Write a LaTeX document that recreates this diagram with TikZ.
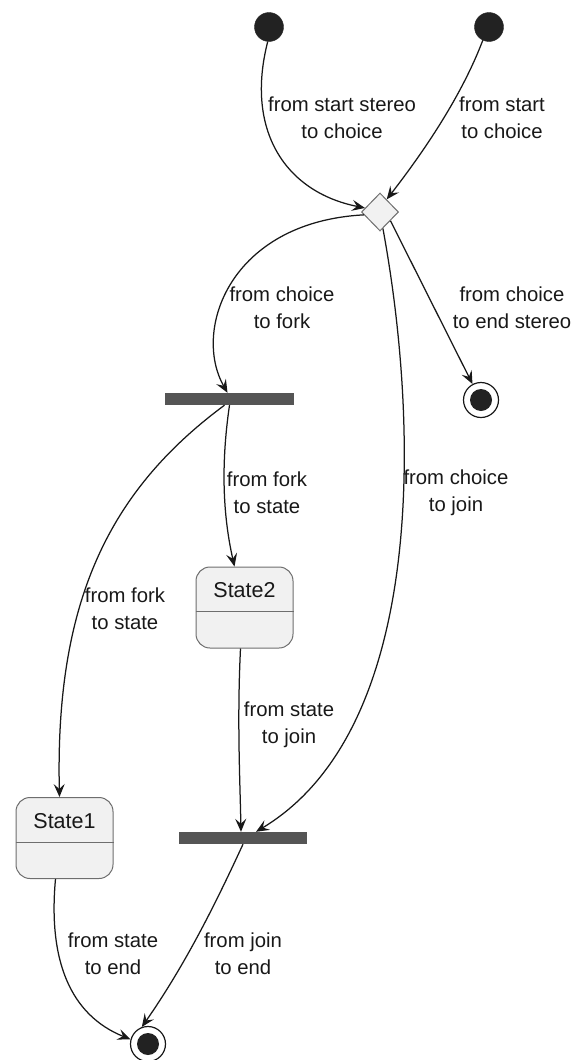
\documentclass[tikz,border=0pt]{standalone}
\usepackage{fontspec}
\setmainfont{Liberation Sans}
\usetikzlibrary{shapes.geometric,arrows.meta,calc}
\definecolor{edgecol}{HTML}{181818}
\definecolor{statefill}{HTML}{F1F1F1}
\definecolor{stateline}{HTML}{6E6E6E}
\definecolor{barfill}{HTML}{555555}
\definecolor{dotfill}{HTML}{222222}
\tikzset{
  startdot/.style={circle,fill=dotfill,draw=dotfill,minimum size=29pt,inner sep=0pt},
  endouter/.style={circle,fill=white,draw=edgecol,line width=1.2pt,minimum size=35pt,inner sep=0pt},
  endinner/.style={circle,fill=dotfill,draw=none,minimum size=22pt,inner sep=0pt},
  choicebox/.style={diamond,fill=statefill,draw=stateline,line width=1pt,minimum width=37pt,minimum height=38pt,inner sep=0pt},
  barbox/.style={rectangle,fill=barfill,draw=none,minimum height=12pt,inner sep=0pt},
  statebox/.style={rectangle,rounded corners=14pt,fill=statefill,draw=stateline,line width=1pt,minimum width=97pt,minimum height=81pt,inner sep=0pt},
  statename/.style={font=\fontsize{21.5}{25}\selectfont,text=edgecol,inner sep=0pt},
  lbl/.style={font=\fontsize{20.3}{27}\selectfont,align=center,text=edgecol,inner sep=0pt},
  conn/.style={draw=edgecol,line width=1.25pt,-{Stealth[length=13pt,width=11pt,inset=5pt]}},
}
\begin{document}
\begin{tikzpicture}[x=1pt,y=-1pt]
\useasboundingbox (0,0) rectangle (571,1060);
% nodes
\node[startdot] (s1) at (269,27) {};
\node[startdot] (s2) at (489,27) {};
\node[choicebox] (ch) at (380,212) {};
\node[barbox,minimum width=129pt] (fork) at (229.5,399) {};
\node[endouter] (e1) at (481,400) {};
\node[endinner] (e1in) at (e1) {};
\node[statebox] (st2) at (244.5,607.5) {};
\draw[stateline,line width=1pt] (st2.west |- 0,611) coordinate (st2l) -- (st2.east |- 0,611) coordinate (st2r);
\node[statename] (st2n) at (244.5,590) {State2};
\node[statebox] (st1) at (64.5,838) {};
\draw[stateline,line width=1pt] (st1.west |- 0,842) coordinate (st1l) -- (st1.east |- 0,842) coordinate (st1r);
\node[statename] (st1n) at (64.5,821) {State1};
\node[barbox,minimum width=128pt] (join) at (243,838) {};
\node[endouter] (e2) at (148,1044) {};
\node[endinner] (e2in) at (e2) {};
% labels
\node[lbl] (l1) at (342,118) {from start stereo\\to choice};
\node[lbl] (l2) at (502,118) {from start\\to choice};
\node[lbl] (l3) at (282,308) {from choice\\to fork};
\node[lbl] (l4) at (512,308) {from choice\\to end stereo};
\node[lbl] (l5) at (267,493) {from fork\\to state};
\node[lbl] (l6) at (456,493) {from choice\\to join};
\node[lbl] (l7) at (125,609) {from fork\\to state};
\node[lbl] (l8) at (289,725) {from state\\to join};
\node[lbl] (l9) at (113,954) {from state\\to end};
\node[lbl] (l10) at (243,954) {from join\\to end};
% connectors
\draw[conn] (s1.265) .. controls (245,130) and (285,192) .. (ch.165);
\draw[conn] (s2.245) .. controls (462,95) and (425,150) .. (ch.62);
\draw[conn] (ch.190) .. controls (230,222) and (192,330) .. ($(fork.north)+(-2,0)$);
\draw[conn] (ch.-40) -- (e1.118);
\draw[conn] (ch.-80) .. controls (420,430) and (425,730) .. ($(join.north)+(13,0)$);
\draw[conn] (fork.south) .. controls (220,470) and (224,520) .. ($(st2.north)+(-10,0)$);
\draw[conn] ($(fork.south)+(-5,0)$) .. controls (110,490) and (55,600) .. ($(st1.north)+(-5,0)$);
\draw[conn] ($(st2.south)+(-4,0)$) .. controls (237,720) and (240,780) .. ($(join.north)+(-2,0)$);
\draw[conn] ($(st1.south)+(-9,0)$) .. controls (48,960) and (70,1015) .. (e2.165);
\draw[conn] (join.south) .. controls (215,905) and (185,965) .. (e2.110);
\end{tikzpicture}
\end{document}
